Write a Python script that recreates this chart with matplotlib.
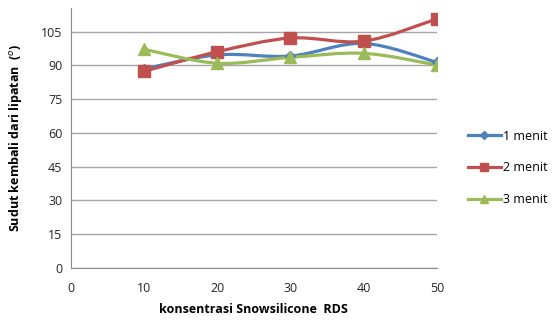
import matplotlib
matplotlib.use("Agg")
import numpy as np
import matplotlib.pyplot as plt
from matplotlib.path import Path
from matplotlib.patches import PathPatch

plt.rcParams['font.family'] = ['Open Sans', 'DejaVu Sans']

konsentrasi = [10, 20, 30, 40, 50]
menit_1 = [88.5, 94.7, 94.2, 99.8, 91.4]
menit_2 = [87.4, 96.1, 102.2, 100.8, 110.7]
menit_3 = [97.2, 91.0, 93.6, 95.4, 90.2]
series_labels = ['1 menit', '2 menit', '3 menit']


def smooth_path(xs, ys, ax):
    # kurva halus ala Excel (Catmull-Rom -> Bezier), dihitung di koordinat layar
    pts = ax.transData.transform(np.column_stack([xs, ys]))
    verts = [pts[0]]
    codes = [Path.MOVETO]
    n = len(pts)
    for i in range(n - 1):
        p0 = pts[i - 1] if i > 0 else pts[i]
        p1 = pts[i]
        p2 = pts[i + 1]
        p3 = pts[i + 2] if i + 2 < n else pts[i + 1]
        c1 = p1 + (p2 - p0) / 6.0
        c2 = p2 - (p3 - p1) / 6.0
        verts += [c1, c2, p2]
        codes += [Path.CURVE4] * 3
    return Path(verts, codes)


fig = plt.figure(figsize=(5.58, 3.24), dpi=100)
ax = fig.add_axes([0.127, 0.173, 0.656, 0.802])
ax.set_xlim(0, 50)
ax.set_ylim(0, 115.5)
ax.set_xticks(range(0, 51, 10))
ax.set_yticks(range(0, 106, 15))
ax.grid(axis='y', color='#a6a6a6', linewidth=1)
ax.set_axisbelow(True)
for s in ['top', 'right']:
    ax.spines[s].set_visible(False)
for s in ['left', 'bottom']:
    ax.spines[s].set_color('#8c8c8c')
ax.tick_params(length=0, labelsize=9, colors='#262626', pad=6)
ax.tick_params(axis='x', pad=10)

warna = ['#4F81BD', '#C0504D', '#9BBB59']
marker = ['D', 's', '^']
msize = [5, 8, 8]
fig.canvas.draw()
for ys, c, m, ms, lab in zip([menit_1, menit_2, menit_3], warna, marker, msize, series_labels):
    p = smooth_path(konsentrasi, ys, ax)
    ax.add_patch(PathPatch(p, transform=None, facecolor='none', edgecolor=c,
                           linewidth=2.3, zorder=3))
    ax.plot(konsentrasi, ys, linestyle='none', color=c, marker=m, markersize=ms,
            markeredgecolor=c, zorder=4)

leg_handles = [plt.Line2D([], [], color=c, linewidth=2.3, marker=m, markersize=ms)
               for c, m, ms in zip(warna, marker, [4, 6, 6])]
fig.legend(leg_handles, series_labels, loc='upper left', bbox_to_anchor=(0.838, 0.60),
           frameon=False, fontsize=9, handlelength=2.7, handletextpad=0.1,
           labelspacing=1.5, borderpad=0, borderaxespad=0)

ax.set_xlabel('konsentrasi Snowsilicone  RDS', fontsize=9, fontweight='bold', labelpad=6)
ax.set_ylabel('Sudut kembali dari lipatan  ($^{o}$)', fontsize=9, fontweight='bold', labelpad=12)

fig.savefig('out.png', dpi=100)
